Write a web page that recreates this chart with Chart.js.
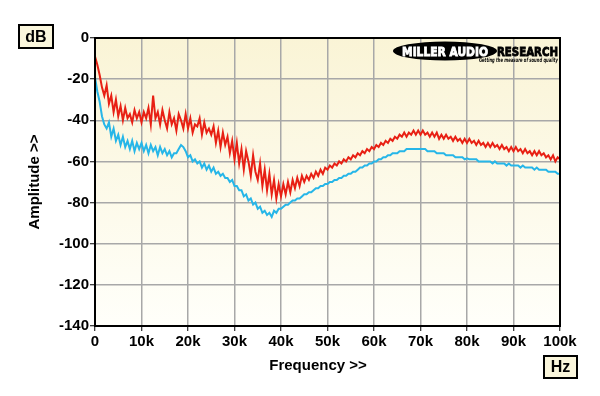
<!DOCTYPE html>
<html>
<head>
<meta charset="utf-8">
<script src="https://cdn.jsdelivr.net/npm/chart.js@4.4.1/dist/chart.umd.min.js"></script>
<style>
  html, body { margin: 0; padding: 0; background: #fff; }
  #wrap { width: 600px; height: 396px; }
</style>
</head>
<body>
<div id="wrap"><canvas id="chart" width="600" height="396"></canvas></div>
<script>
// sample grid: every 0.5 kHz from 0 to 100 kHz
var stepHz = 500;

// red trace, dB
var redDb = [
  -9, -13, -18, -24, -28, -23, -32, -28, -36, -30,
  -38, -33, -40, -34, -39, -37, -41, -35, -39, -36,
  -41, -36, -39, -34, -42, -28, -39, -36, -42, -35,
  -40, -44, -36, -42, -39, -45, -37, -40, -44, -37,
  -44, -39, -46, -42, -43, -39, -47, -41, -46, -44,
  -47, -43, -51, -45, -53, -46, -52, -48, -56, -50,
  -59, -51, -61, -54, -64, -55, -60, -67, -57, -65,
  -69, -61, -72, -64, -74, -66, -76, -69, -78, -71,
  -77, -71, -76, -70, -75, -69, -73, -68, -72, -67,
  -70, -67, -69, -66, -68, -65, -67, -64, -66, -63,
  -64, -62, -63, -61, -62, -60, -61, -59, -60, -58,
  -59, -57, -58, -56, -57, -55, -56, -54, -55, -53,
  -54, -52, -53, -51, -52, -50, -51, -49, -50, -48,
  -49, -47, -48, -46, -48, -46, -47, -45, -47, -45,
  -47, -45, -47, -46, -48, -46, -48, -46, -49, -47,
  -49, -47, -49, -48, -50, -48, -50, -49, -51, -49,
  -51, -49, -51, -50, -52, -50, -52, -51, -53, -51,
  -53, -51, -53, -52, -54, -52, -54, -53, -55, -53,
  -55, -53, -55, -54, -56, -54, -56, -55, -57, -55,
  -57, -55, -57, -56, -58, -57, -59, -57, -60, -58,
  -59
];

// blue trace, dB
var blueDb = [
  -19, -26, -31, -38, -42, -44, -41, -48, -44, -50,
  -47, -52, -48, -53, -50, -54, -50, -55, -51, -54,
  -51, -55, -52, -56, -52, -55, -53, -57, -53, -56,
  -54, -57, -55, -58, -56, -56, -54, -52, -53, -55,
  -58, -57, -60, -59, -61, -60, -63, -61, -64, -62,
  -65, -63, -66, -65, -67, -66, -68, -68, -70, -69,
  -72, -72, -74, -74, -77, -76, -79, -78, -81, -80,
  -83, -82, -85, -84, -86, -85, -87, -84, -85, -83,
  -83, -82, -81, -81, -80, -79, -79, -78, -78, -77,
  -76, -76, -75, -75, -74, -73, -73, -72, -72, -71,
  -71, -70, -70, -69, -69, -68, -68, -67, -67, -66,
  -66, -65, -65, -64, -63, -63, -62, -62, -61, -61,
  -60, -60, -59, -59, -58, -58, -57, -57, -56, -56,
  -56, -55, -55, -55, -54, -54, -54, -54, -54, -54,
  -54, -54, -54, -55, -55, -55, -55, -56, -56, -56,
  -56, -57, -57, -57, -57, -58, -58, -58, -58, -59,
  -58.5, -59, -59, -59, -59, -60, -60, -60, -60, -60,
  -60, -61, -60, -61, -61, -61, -61, -62, -61, -62,
  -62, -62, -62, -63, -62, -63, -63, -63, -63, -64,
  -63, -64, -64, -64, -64, -65, -65, -65, -65, -66,
  -66
];

var xTicks = [0, 10000, 20000, 30000, 40000, 50000, 60000, 70000, 80000, 90000, 100000];
var yTicks = [0, -20, -40, -60, -80, -100, -120, -140];

function toPoints(arr) {
  return arr.map(function (v, i) { return { x: i * stepHz, y: v }; });
}

var FAMILY = "'Liberation Sans', Arial, sans-serif";

function drawBox(ctx, x, y, w, h, text) {
  ctx.save();
  ctx.fillStyle = "#faf6dc";
  ctx.fillRect(x, y, w, h);
  ctx.strokeStyle = "#000";
  ctx.lineWidth = 2;
  ctx.strokeRect(x, y, w, h);
  ctx.fillStyle = "#000";
  ctx.font = "bold 16px " + FAMILY;
  ctx.textAlign = "center";
  ctx.textBaseline = "middle";
  ctx.fillText(text, x + w / 2, y + h / 2 + 1);
  ctx.restore();
}

// squeeze/stretch text to a given width, optional stroke to fatten it
function fitText(ctx, text, x, y, width, fat) {
  var w = ctx.measureText(text).width;
  ctx.save();
  ctx.translate(x, y);
  ctx.scale(width / w, 1);
  ctx.fillText(text, 0, 0);
  if (fat) {
    ctx.lineWidth = fat;
    ctx.strokeStyle = ctx.fillStyle;
    ctx.strokeText(text, 0, 0);
  }
  ctx.restore();
}

var decor = {
  id: "decor",
  beforeDraw: function (chart) {
    var a = chart.chartArea, ctx = chart.ctx;
    var g = ctx.createLinearGradient(0, a.top, 0, a.bottom);
    g.addColorStop(0, "#faf4d6");
    g.addColorStop(1, "#fffffa");
    ctx.save();
    ctx.fillStyle = g;
    ctx.fillRect(a.left, a.top, a.right - a.left, a.bottom - a.top);
    ctx.restore();
  },
  afterDraw: function (chart) {
    var a = chart.chartArea, ctx = chart.ctx;
    ctx.save();
    // frame
    ctx.strokeStyle = "#000";
    ctx.lineWidth = 2;
    ctx.strokeRect(a.left, a.top, a.right - a.left, a.bottom - a.top);

    // axis titles
    ctx.fillStyle = "#000";
    ctx.font = "bold 15px " + FAMILY;
    ctx.textAlign = "center";
    ctx.textBaseline = "middle";
    ctx.fillText("Frequency >>", 318, 366);
    ctx.save();
    ctx.translate(35, 182);
    ctx.rotate(-Math.PI / 2);
    ctx.fillText("Amplitude >>", 0, 0);
    ctx.restore();

    drawBox(ctx, 19, 25, 34, 23, "dB");
    drawBox(ctx, 544, 356, 33, 22, "Hz");

    // logo
    ctx.fillStyle = "#000";
    ctx.beginPath();
    ctx.ellipse(445, 51, 52, 9.5, 0, 0, Math.PI * 2);
    ctx.fill();
    ctx.textAlign = "left";
    ctx.textBaseline = "alphabetic";
    ctx.font = "bold 13px 'DejaVu Sans', sans-serif";
    ctx.fillStyle = "#fff";
    fitText(ctx, "MILLER AUDIO", 402, 56, 86, 0.9);
    ctx.fillStyle = "#000";
    fitText(ctx, "RESEARCH", 497, 56, 61, 0.9);
    ctx.font = "italic bold 6px 'DejaVu Sans', sans-serif";
    fitText(ctx, "Getting the measure of sound quality", 479, 62, 79, 0);
    ctx.restore();
  }
};

var ctx = document.getElementById("chart").getContext("2d");
var chart = new Chart(ctx, {
  type: "line",
  data: {
    datasets: [{
      label: "red",
      data: toPoints(redDb),
      borderColor: "rgb(232, 32, 20)",
      borderWidth: 2,
      pointRadius: 0,
      tension: 0
    }, {
      label: "blue",
      data: toPoints(blueDb),
      borderColor: "rgb(38, 182, 232)",
      borderWidth: 2,
      pointRadius: 0,
      tension: 0
    }]
  },
  options: {
    responsive: false,
    animation: false,
    events: [],
    layout: { padding: { top: 38, right: 40, left: 0, bottom: 0 } },
    plugins: { legend: { display: false }, tooltip: { enabled: false } },
    scales: {
      x: {
        type: "linear",
        min: 0,
        max: 100000,
        afterBuildTicks: function (s) { s.ticks = xTicks.map(function (v) { return { value: v }; }); },
        afterFit: function (s) { s.height = 70; },
        ticks: {
          color: "#000",
          font: { family: FAMILY, size: 15, weight: "bold" },
          padding: 2,
          maxRotation: 0,
          callback: function (v) { return v === 0 ? "0" : (v / 1000) + "k"; }
        },
        grid: { color: "#a8a8a8", lineWidth: 1.5, tickColor: "#000", tickLength: 5, tickWidth: 1 },
        border: { color: "#000", width: 2 }
      },
      y: {
        min: -140,
        max: 0,
        afterBuildTicks: function (s) { s.ticks = yTicks.map(function (v) { return { value: v }; }); },
        afterFit: function (s) { s.width = 95; },
        ticks: {
          color: "#000",
          font: { family: FAMILY, size: 15, weight: "bold" },
          padding: 1
        },
        grid: { color: "#a8a8a8", lineWidth: 1.5, tickColor: "#000", tickLength: 5, tickWidth: 1 },
        border: { color: "#000", width: 2 }
      }
    }
  },
  plugins: [decor]
});
</script>
</body>
</html>
